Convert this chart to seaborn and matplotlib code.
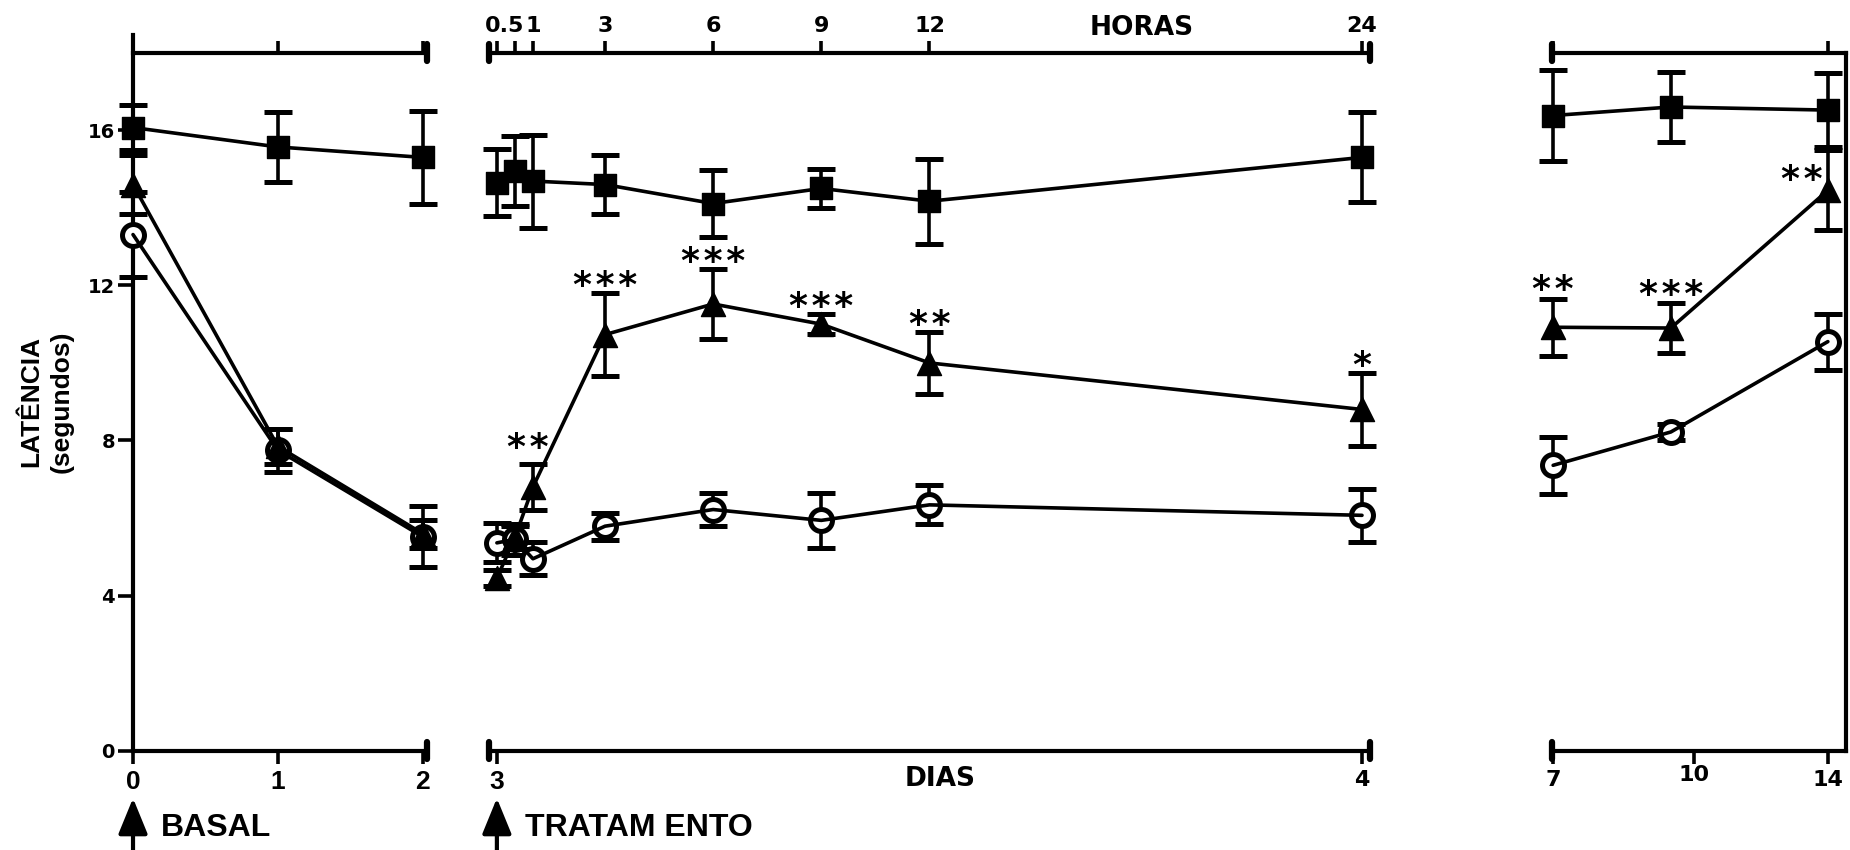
import matplotlib
matplotlib.use("Agg")
import matplotlib.pyplot as plt
import matplotlib.transforms as mtrans
import seaborn as sns

# ---------------- data (mean latency in seconds, SEM) ----------------
# panel 1: days 0-2 (basal period)
dias_basal = [0, 1, 2]
# panel 2: hours after treatment on day 3
horas = [0, 0.5, 1, 3, 6, 9, 12, 24]
# panel 3: later days
dias_tardios = [7, 10, 14]

quad_basal = [16.07, 15.57, 15.30]
quad_basal_err = [0.57, 0.90, 1.20]
quad_horas = [14.65, 14.95, 14.69, 14.60, 14.11, 14.50, 14.17, 15.30]
quad_horas_err = [0.87, 0.90, 1.20, 0.75, 0.87, 0.50, 1.10, 1.16]
quad_tardio = [16.38, 16.60, 16.52]
quad_tardio_err = [1.18, 0.90, 0.95]

tri_basal = [14.60, 7.85, 5.60]
tri_basal_err = [0.77, 0.45, 0.36]
tri_horas = [4.45, 5.50, 6.80, 10.73, 11.52, 11.00, 10.00, 8.80]
tri_horas_err = [0.20, 0.30, 0.60, 1.07, 0.90, 0.25, 0.80, 0.93]
tri_tardio = [10.92, 10.90, 14.45]
tri_tardio_err = [0.73, 0.64, 1.03]

circ_basal = [13.31, 7.75, 5.52]
circ_basal_err = [1.10, 0.55, 0.78]
circ_horas = [5.36, 5.45, 4.95, 5.79, 6.22, 5.94, 6.34, 6.07]
circ_horas_err = [0.50, 0.40, 0.42, 0.35, 0.43, 0.70, 0.50, 0.68]
circ_tardio = [7.36, 8.22, 10.55]
circ_tardio_err = [0.73, 0.20, 0.72]

# significance marks for the treated (triangle) group
sig_horas = ["", "", "**", "***", "***", "***", "**", "*"]
sig_tardio = ["**", "***", "**"]

y_ticks = [0, 4, 8, 12, 16]

# ---------------- style ----------------
sns.set_theme(style="ticks")
WIDE = ["DejaVu Sans"]
NARROW = ["Liberation Sans Narrow", "Liberation Sans", "DejaVu Sans"]
K = "black"
plt.rcParams.update({
    "font.family": WIDE,
    "font.weight": "bold",
    "text.color": K,
    "axes.labelcolor": K,
    "xtick.color": K,
    "ytick.color": K,
    "axes.edgecolor": K,
})

LW_AX = 3.0
LW_LINE = 2.6

fig = plt.figure(figsize=(18.5, 8.5), dpi=100)
bottom, height = 0.1168, 0.8212
ax1 = fig.add_axes([0.0719, bottom, 0.1589, height])
ax2 = fig.add_axes([0.2643, bottom, 0.4762, height])
ax3 = fig.add_axes([0.8389, bottom, 0.1589, height])

ax1.set_xlim(0, 2.03)
ax2.set_xlim(-0.22, 24.22)
ax3.set_xlim(6.97, 14.46)
for ax in (ax1, ax2, ax3):
    ax.set_ylim(0, 18)
    ax.set_facecolor("white")
    for s in ax.spines.values():
        s.set_linewidth(LW_AX)
        s.set_color(K)
        s.set_visible(False)
    ax.spines["bottom"].set_visible(True)


def draw_series(ax, x, y, err, marker, filled, size, ew):
    ax.errorbar(x, y, yerr=err, fmt="none", ecolor=K, elinewidth=LW_LINE,
                capsize=10, capthick=3.6, zorder=2, clip_on=False)
    sns.scatterplot(x=x, y=y, ax=ax, marker=marker, s=size,
                    color=K if filled else "white", edgecolor=K,
                    linewidth=ew, zorder=3, clip_on=False, legend=False)
    sns.lineplot(x=x, y=y, ax=ax, color=K, lw=LW_LINE, sort=False,
                 estimator=None, zorder=4, legend=False)


panels = [
    (ax1, dias_basal, (quad_basal, quad_basal_err), (tri_basal, tri_basal_err),
     (circ_basal, circ_basal_err)),
    (ax2, horas, (quad_horas, quad_horas_err), (tri_horas, tri_horas_err),
     (circ_horas, circ_horas_err)),
    (ax3, dias_tardios, (quad_tardio, quad_tardio_err), (tri_tardio, tri_tardio_err),
     (circ_tardio, circ_tardio_err)),
]
for ax, x, quad, tri, circ in panels:
    draw_series(ax, x, circ[0], circ[1], "o", False, 250, 3.6)
    draw_series(ax, x, tri[0], tri[1], "^", True, 300, 1.0)
    draw_series(ax, x, quad[0], quad[1], "s", True, 260, 1.0)
    for ln in ax.lines:
        ln.set_clip_on(False)
    ax.set_xlabel("")
    ax.set_ylabel("")

# ---------------- significance marks ----------------
star_kw = dict(textcoords="offset points", ha="center", va="baseline",
               fontsize=26, fontweight="bold", family=WIDE, color=K)
SEP = "\u200a"
for i, lab in enumerate(sig_horas):
    if lab:
        dx, dy = (-4, 4) if i == 2 else (0, -2)
        ax2.annotate(SEP.join(lab), (horas[i], tri_horas[i] + tri_horas_err[i]),
                     xytext=(dx, dy), **star_kw)
for i, lab in enumerate(sig_tardio):
    if i == len(sig_tardio) - 1:
        ax3.annotate(SEP.join(lab), (dias_tardios[i], tri_tardio[i]),
                     xytext=(-19, 0), **star_kw)
    else:
        ax3.annotate(SEP.join(lab), (dias_tardios[i], tri_tardio[i] + tri_tardio_err[i]),
                     xytext=(0, -1), **star_kw)

# ---------------- axes, ticks and breaks ----------------
tick_kw = dict(width=2.6, length=9, color=K)

# panel 1: y axis + day ticks
ax1.spines["left"].set_visible(True)
ax1.spines["left"].set_bounds(0, 18.45)
ax1.set_yticks(y_ticks, [str(v) for v in y_ticks], fontsize=14, fontweight="bold",
               family=WIDE)
ax1.tick_params(axis="y", which="both", width=2.6, length=11, pad=2, color=K, left=True)
ax1.set_xticks(dias_basal, [str(d) for d in dias_basal], fontsize=19,
               fontweight="bold", family=NARROW)
ax1.tick_params(axis="x", direction="out", pad=5, **tick_kw)

# panel 2: days at bottom, hours at top
ax2.set_yticks([])
ax2.set_xticks([0, 24], ["3", "4"], fontsize=19, fontweight="bold")
for lbl, fam, fs in zip(ax2.get_xticklabels(), [NARROW, WIDE], [19, 16]):
    lbl.set_family(fam)
    lbl.set_fontsize(fs)
ax2.tick_params(axis="x", direction="out", pad=5, **tick_kw)

# panel 3: later days
ax3.set_yticks([])
ax3.spines["right"].set_visible(True)
ax3.set_xticks([7, 10.6, 14], ["7", "10", "14"], fontsize=16, fontweight="bold")
ax3.tick_params(axis="x", direction="out", pad=5, **tick_kw)
ax3.get_xticklabels()[1].set_y(0.008)

# top axes
top_ticks = {
    ax1: (dias_basal, ["", "", ""]),
    ax2: (horas, ["", "0.5", "1", "3", "6", "9", "12", "24"]),
    ax3: ([7, 14], ["", ""]),
}
for ax, (tks, labs) in top_ticks.items():
    sec = ax.secondary_xaxis("top")
    sec.spines["top"].set_linewidth(LW_AX)
    sec.spines["top"].set_color(K)
    sec.set_xticks(tks, labs, fontsize=16, fontweight="bold", family=WIDE)
    sec.tick_params(axis="x", direction="out", pad=3, **tick_kw)
    if ax is ax2:
        # shift the crowded "0.5" label left of its tick
        lab = sec.get_xticklabels()[1]
        lab.set_transform(lab.get_transform() +
                          mtrans.ScaledTranslation(-0.1, 0, fig.dpi_scale_trans))

# break marks at the panel joints
brk = dict(color=K, lw=4.5, solid_capstyle="round", clip_on=False, zorder=6)
for ax, xs in ((ax1, [1.0]), (ax2, [0.0, 1.0]), (ax3, [0.0])):
    for xb in xs:
        for yb in (0.0, 1.0):
            ax.plot([xb, xb], [yb - 0.012, yb + 0.012], transform=ax.transAxes, **brk)

# ---------------- labels ----------------
ax1.set_ylabel("LATÊNCIA\n(segundos)", fontsize=19, fontweight="bold",
               family=NARROW, labelpad=10, linespacing=1.35)
ax2.text(17.9, 1.035, "HORAS", transform=ax2.get_xaxis_transform(),
         ha="center", va="center", fontsize=19, fontweight="bold", family=WIDE)
ax2.text(12.3, -0.04, "DIAS", transform=ax2.get_xaxis_transform(),
         ha="center", va="center", fontsize=19, fontweight="bold", family=WIDE)

arrow_kw = dict(arrowstyle="-|>,head_length=1.1,head_width=0.45", lw=3.0,
                color=K, mutation_scale=20, shrinkA=0, shrinkB=0)
for ax, x0, text in ((ax1, dias_basal[0], "BASAL"), (ax2, horas[0], "TRATAM ENTO")):
    ax.annotate("", xy=(x0, -0.068), xytext=(x0, -0.16),
                xycoords=ax.get_xaxis_transform(), textcoords=ax.get_xaxis_transform(),
                arrowprops=arrow_kw, annotation_clip=False)
    ax.annotate(text, xy=(x0, -0.111), xycoords=ax.get_xaxis_transform(),
                xytext=(20, 0), textcoords="offset points", ha="left", va="center",
                fontsize=23, fontweight="bold", family=NARROW, annotation_clip=False)

fig.savefig("out.png", dpi=100, facecolor="white")
